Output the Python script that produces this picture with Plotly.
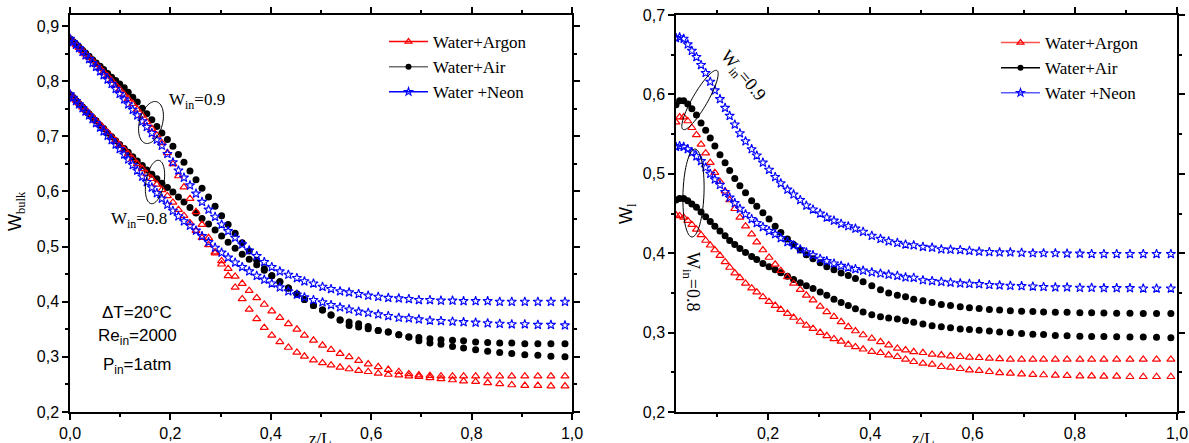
import math
import plotly.graph_objects as go

W, H = 1189, 443

# ---------------- data: left panel (W_bulk vs z/L) ----------------
x_left = [0.000, 0.006, 0.012, 0.018, 0.025, 0.031, 0.038, 0.045, 0.052, 0.060,
          0.067, 0.075, 0.083, 0.091, 0.099, 0.108, 0.116, 0.125, 0.134, 0.144,
          0.153, 0.163, 0.173, 0.183, 0.194, 0.205, 0.216, 0.227, 0.239, 0.251,
          0.263, 0.276, 0.289, 0.302, 0.315, 0.329, 0.343, 0.357, 0.372, 0.387,
          0.402, 0.418, 0.435, 0.452, 0.467, 0.485, 0.503, 0.520, 0.538, 0.556,
          0.575, 0.594, 0.614, 0.634, 0.655, 0.675, 0.695, 0.717, 0.739, 0.762,
          0.784, 0.808, 0.832, 0.856, 0.880, 0.906, 0.932, 0.958, 0.986]

bulk_air_09 = [0.877, 0.872, 0.867, 0.862, 0.856, 0.851, 0.845, 0.839, 0.833, 0.827,
               0.821, 0.814, 0.807, 0.801, 0.795, 0.788, 0.780, 0.771, 0.762, 0.751,
               0.741, 0.730, 0.718, 0.706, 0.694, 0.682, 0.667, 0.653, 0.637, 0.621,
               0.606, 0.590, 0.573, 0.556, 0.540, 0.524, 0.507, 0.492, 0.475, 0.460,
               0.447, 0.436, 0.425, 0.414, 0.404, 0.393, 0.385, 0.376, 0.367, 0.363,
               0.360, 0.355, 0.348, 0.345, 0.340, 0.336, 0.335, 0.333, 0.331, 0.330,
               0.329, 0.327, 0.326, 0.325, 0.325, 0.324, 0.324, 0.324, 0.324]
bulk_air_08 = [0.776, 0.771, 0.765, 0.759, 0.753, 0.747, 0.741, 0.734, 0.728, 0.720,
               0.714, 0.706, 0.699, 0.692, 0.685, 0.678, 0.671, 0.663, 0.655, 0.647,
               0.639, 0.631, 0.623, 0.615, 0.607, 0.599, 0.590, 0.581, 0.571, 0.561,
               0.551, 0.541, 0.530, 0.519, 0.508, 0.497, 0.486, 0.477, 0.467, 0.457,
               0.447, 0.436, 0.425, 0.414, 0.404, 0.393, 0.385, 0.376, 0.367, 0.357,
               0.354, 0.351, 0.348, 0.345, 0.340, 0.336, 0.329, 0.325, 0.323, 0.319,
               0.316, 0.313, 0.310, 0.308, 0.306, 0.304, 0.303, 0.301, 0.300]
bulk_neon_09 = [0.877, 0.871, 0.866, 0.860, 0.853, 0.847, 0.840, 0.833, 0.826, 0.818,
                0.811, 0.803, 0.795, 0.786, 0.777, 0.767, 0.758, 0.748, 0.738, 0.727,
                0.717, 0.706, 0.694, 0.683, 0.668, 0.653, 0.638, 0.625, 0.611, 0.596,
                0.581, 0.567, 0.554, 0.540, 0.528, 0.516, 0.504, 0.493, 0.483, 0.472,
                0.463, 0.455, 0.449, 0.443, 0.437, 0.433, 0.427, 0.423, 0.419, 0.417,
                0.414, 0.411, 0.409, 0.407, 0.406, 0.405, 0.403, 0.403, 0.402, 0.402,
                0.401, 0.401, 0.401, 0.400, 0.400, 0.400, 0.400, 0.400, 0.400]
bulk_neon_08 = [0.776, 0.770, 0.764, 0.758, 0.751, 0.745, 0.738, 0.731, 0.724, 0.716,
                0.709, 0.701, 0.693, 0.685, 0.677, 0.667, 0.658, 0.648, 0.638, 0.627,
                0.617, 0.607, 0.597, 0.587, 0.576, 0.565, 0.555, 0.546, 0.538, 0.529,
                0.519, 0.508, 0.498, 0.489, 0.480, 0.471, 0.463, 0.455, 0.447, 0.440,
                0.433, 0.426, 0.419, 0.413, 0.408, 0.403, 0.399, 0.394, 0.390, 0.386,
                0.382, 0.380, 0.377, 0.374, 0.371, 0.370, 0.368, 0.366, 0.365, 0.364,
                0.363, 0.362, 0.361, 0.360, 0.359, 0.359, 0.358, 0.358, 0.357]
bulk_argon_09 = [0.877, 0.872, 0.866, 0.861, 0.855, 0.849, 0.843, 0.837, 0.830, 0.823,
                 0.816, 0.809, 0.801, 0.793, 0.785, 0.776, 0.768, 0.759, 0.749, 0.738,
                 0.726, 0.714, 0.702, 0.688, 0.670, 0.650, 0.628, 0.608, 0.587, 0.563,
                 0.540, 0.516, 0.490, 0.468, 0.447, 0.426, 0.405, 0.386, 0.369, 0.353,
                 0.339, 0.327, 0.317, 0.308, 0.301, 0.294, 0.289, 0.285, 0.281, 0.278,
                 0.275, 0.273, 0.270, 0.268, 0.267, 0.265, 0.264, 0.262, 0.260, 0.258,
                 0.256, 0.255, 0.253, 0.251, 0.249, 0.248, 0.248, 0.247, 0.247]
bulk_argon_08 = [0.776, 0.771, 0.765, 0.760, 0.753, 0.748, 0.741, 0.735, 0.728, 0.721,
                 0.714, 0.707, 0.699, 0.692, 0.684, 0.676, 0.668, 0.659, 0.650, 0.641,
                 0.632, 0.623, 0.613, 0.603, 0.592, 0.580, 0.567, 0.556, 0.543, 0.529,
                 0.516, 0.503, 0.488, 0.474, 0.460, 0.446, 0.433, 0.420, 0.407, 0.395,
                 0.383, 0.371, 0.360, 0.350, 0.339, 0.330, 0.321, 0.313, 0.306, 0.300,
                 0.293, 0.287, 0.282, 0.277, 0.273, 0.269, 0.267, 0.266, 0.265, 0.265,
                 0.265, 0.265, 0.265, 0.265, 0.265, 0.265, 0.265, 0.265, 0.265]

# ---------------- data: right panel (W_l vs z/L) ----------------
x_right = [0.020, 0.027, 0.035, 0.043, 0.051, 0.060, 0.069, 0.078, 0.087, 0.096,
           0.106, 0.116, 0.125, 0.135, 0.145, 0.156, 0.168, 0.178, 0.190, 0.202,
           0.214, 0.225, 0.238, 0.250, 0.263, 0.275, 0.288, 0.302, 0.315, 0.329,
           0.343, 0.357, 0.371, 0.386, 0.403, 0.420, 0.436, 0.453, 0.469, 0.485,
           0.503, 0.521, 0.539, 0.557, 0.576, 0.594, 0.613, 0.633, 0.653, 0.674,
           0.696, 0.718, 0.739, 0.762, 0.785, 0.810, 0.833, 0.857, 0.882, 0.908,
           0.934, 0.960, 0.988]

liq_neon_09 = [0.671, 0.672, 0.670, 0.663, 0.655, 0.647, 0.637, 0.627, 0.616, 0.605,
               0.594, 0.583, 0.573, 0.562, 0.551, 0.541, 0.531, 0.523, 0.514, 0.505,
               0.496, 0.488, 0.480, 0.474, 0.467, 0.460, 0.455, 0.450, 0.445, 0.441,
               0.437, 0.434, 0.431, 0.427, 0.422, 0.418, 0.415, 0.413, 0.411, 0.410,
               0.408, 0.407, 0.405, 0.4045, 0.404, 0.403, 0.402, 0.4015, 0.401, 0.401,
               0.4005, 0.400, 0.400, 0.400, 0.3995, 0.3995, 0.399, 0.399, 0.399, 0.399,
               0.399, 0.399, 0.399]
liq_neon_08 = [0.534, 0.535, 0.534, 0.531, 0.527, 0.522, 0.516, 0.508, 0.500, 0.493,
               0.486, 0.477, 0.470, 0.463, 0.456, 0.449, 0.443, 0.438, 0.433, 0.428,
               0.424, 0.419, 0.414, 0.410, 0.405, 0.401, 0.3975, 0.393, 0.390, 0.387,
               0.384, 0.382, 0.380, 0.378, 0.376, 0.3745, 0.373, 0.3715, 0.3695, 0.369,
               0.366, 0.365, 0.364, 0.363, 0.362, 0.3615, 0.361, 0.360, 0.3595, 0.359,
               0.3585, 0.358, 0.3575, 0.357, 0.357, 0.3565, 0.3565, 0.356, 0.356, 0.356,
               0.3555, 0.3555, 0.3555]
liq_air_09 = [0.587, 0.592, 0.592, 0.588, 0.582, 0.574, 0.564, 0.555, 0.545, 0.535,
              0.524, 0.514, 0.504, 0.494, 0.485, 0.476, 0.466, 0.459, 0.451, 0.443,
              0.434, 0.426, 0.418, 0.411, 0.404, 0.398, 0.393, 0.388, 0.383, 0.379,
              0.375, 0.372, 0.368, 0.364, 0.359, 0.354, 0.350, 0.347, 0.345, 0.342,
              0.340, 0.338, 0.3355, 0.334, 0.3325, 0.3313, 0.3305, 0.3292, 0.3285, 0.3275,
              0.327, 0.3265, 0.326, 0.3257, 0.3255, 0.325, 0.325, 0.3247, 0.3245, 0.3243,
              0.324, 0.324, 0.324]
liq_air_08 = [0.467, 0.469, 0.469, 0.466, 0.462, 0.458, 0.452, 0.446, 0.440, 0.434,
              0.428, 0.422, 0.416, 0.411, 0.406, 0.401, 0.396, 0.392, 0.387, 0.383,
              0.379, 0.3755, 0.371, 0.367, 0.3627, 0.359, 0.3555, 0.351, 0.347, 0.342,
              0.338, 0.334, 0.330, 0.326, 0.3225, 0.3199, 0.3185, 0.317, 0.315, 0.313,
              0.3107, 0.3086, 0.3074, 0.306, 0.3044, 0.304, 0.303, 0.302, 0.3006, 0.2998,
              0.299, 0.298, 0.2977, 0.2965, 0.296, 0.2955, 0.2952, 0.295, 0.2948, 0.2945,
              0.2944, 0.294, 0.2935]
liq_argon_09 = [0.565, 0.5715, 0.5715, 0.5665, 0.558, 0.549, 0.537, 0.526, 0.514, 0.5015,
                0.490, 0.478, 0.467, 0.456, 0.445, 0.434, 0.424, 0.414, 0.404, 0.3946,
                0.386, 0.378, 0.370, 0.362, 0.354, 0.347, 0.341, 0.333, 0.326, 0.320,
                0.3136, 0.3073, 0.302, 0.297, 0.2927, 0.2884, 0.2843, 0.2801, 0.278, 0.2758,
                0.2746, 0.2726, 0.2717, 0.2704, 0.2696, 0.2688, 0.2683, 0.2675, 0.267, 0.2663,
                0.2663, 0.2663, 0.2663, 0.2663, 0.2663, 0.2663, 0.2663, 0.2663, 0.2663, 0.2663,
                0.2663, 0.2663, 0.2663]
liq_argon_08 = [0.448, 0.447, 0.445, 0.441, 0.436, 0.430, 0.423, 0.416, 0.410, 0.404,
                0.397, 0.389, 0.382, 0.375, 0.369, 0.362, 0.356, 0.351, 0.345, 0.339,
                0.334, 0.329, 0.324, 0.319, 0.314, 0.309, 0.305, 0.300, 0.296, 0.292,
                0.289, 0.285, 0.282, 0.279, 0.276, 0.2746, 0.2717, 0.2696, 0.2663, 0.2633,
                0.2612, 0.260, 0.257, 0.2562, 0.2545, 0.2528, 0.252, 0.2507, 0.2494, 0.2487,
                0.2478, 0.247, 0.2466, 0.2462, 0.2457, 0.2453, 0.2453, 0.2449, 0.2449, 0.2444,
                0.2444, 0.2444, 0.2444]

# ---------------- tick labels ----------------
left_y_vals = [0.2, 0.3, 0.4, 0.5, 0.6, 0.7, 0.8, 0.9]
left_y_text = ["0,2", "0,3", "0,4", "0,5", "0,6", "0,7", "0,8", "0,9"]
left_x_vals = [0.0, 0.2, 0.4, 0.6, 0.8, 1.0]
left_x_text = ["0,0", "0,2", "0,4", "0,6", "0,8", "1,0"]
right_y_vals = [0.2, 0.3, 0.4, 0.5, 0.6, 0.7]
right_y_text = ["0,2", "0,3", "0,4", "0,5", "0,6", "0,7"]
right_x_vals = [0.2, 0.4, 0.6, 0.8, 1.0]
right_x_text = ["0,2", "0,4", "0,6", "0,8", "1,0"]

series_names = ["Water+Argon", "Water+Air", "Water +Neon"]

# ---------------- styles ----------------
RED, BLUE, BLACK = "#ff0000", "#0000ff", "#000000"
argon_m = dict(symbol="triangle-up-open", size=7, color=RED, line=dict(width=1.2, color=RED))
air_m = dict(symbol="circle", size=7, color=BLACK)
neon_m = dict(symbol="star-open", size=7, color=BLUE, line=dict(width=1.1, color=BLUE))

SERIF = "Liberation Serif"
SANS = "Liberation Sans"

fig = go.Figure()


def add_pts(x, y, marker, xa, ya):
    fig.add_trace(go.Scatter(x=x, y=y, mode="markers", marker=marker,
                             xaxis=xa, yaxis=ya, showlegend=False, hoverinfo="skip"))


# left panel
add_pts(x_left, bulk_air_09, air_m, "x", "y")
add_pts(x_left, bulk_air_08, air_m, "x", "y")
add_pts(x_left, bulk_argon_09, argon_m, "x", "y")
add_pts(x_left, bulk_argon_08, argon_m, "x", "y")
add_pts(x_left, bulk_neon_09, neon_m, "x", "y")
add_pts(x_left, bulk_neon_08, neon_m, "x", "y")
# right panel
add_pts(x_right, liq_air_09, air_m, "x2", "y2")
add_pts(x_right, liq_air_08, air_m, "x2", "y2")
add_pts(x_right, liq_argon_09, argon_m, "x2", "y2")
add_pts(x_right, liq_argon_08, argon_m, "x2", "y2")
add_pts(x_right, liq_neon_09, neon_m, "x2", "y2")
add_pts(x_right, liq_neon_08, neon_m, "x2", "y2")

# legend entries (line - marker - line)
legend_styles_left = [(RED, argon_m), ("#6e6e6e", air_m), (BLUE, neon_m)]
legend_styles_right = [("#ff5050", argon_m), (BLACK, air_m), ("#5a5aff", neon_m)]
for name, (lc, m) in zip(series_names, legend_styles_left):
    mm = dict(m); mm["size"] = 6
    fig.add_trace(go.Scatter(x=[None], y=[None], mode="lines+markers", name=name,
                             line=dict(color=lc, width=1.5), marker=mm,
                             xaxis="x", yaxis="y", legend="legend"))
for name, (lc, m) in zip(series_names, legend_styles_right):
    mm = dict(m); mm["size"] = 6
    fig.add_trace(go.Scatter(x=[None], y=[None], mode="lines+markers", name=name,
                             line=dict(color=lc, width=1.5), marker=mm,
                             xaxis="x2", yaxis="y2", legend="legend2"))


def axis(domain, rng, vals, text, minor0, minordt, anchor):
    return dict(domain=domain, range=rng, tickmode="array", tickvals=vals, ticktext=text,
                showline=True, linecolor="black", linewidth=1.5, mirror="allticks",
                ticks="outside", ticklen=6, tickwidth=1.5, tickcolor="black",
                showgrid=False, zeroline=False, anchor=anchor, automargin=False,
                tickfont=dict(family=SANS, size=16, color="black"),
                minor=dict(ticks="outside", ticklen=3, tickwidth=1.5, tickcolor="black",
                           tickmode="linear", tick0=minor0, dtick=minordt, showgrid=False))


ydom = [1 - 412 / H, 1 - 15 / H]
fig.update_layout(
    width=W, height=H, margin=dict(l=0, r=0, t=0, b=0, autoexpand=False),
    paper_bgcolor="white", plot_bgcolor="white",
    xaxis=axis([70 / W, 572 / W], [0, 1], left_x_vals, left_x_text, 0, 0.1, "y"),
    yaxis=axis(ydom, [0.2, 0.92], left_y_vals, left_y_text, 0.2, 0.05, "x"),
    xaxis2=axis([676 / W, 1177 / W], [0.02, 1.0], right_x_vals, right_x_text, 0, 0.1, "y2"),
    yaxis2=axis(ydom, [0.2, 0.7], right_y_vals, right_y_text, 0.2, 0.05, "x2"),
    legend=dict(x=384 / W, y=1 - 24 / H, xanchor="left", yanchor="top",
                bgcolor="rgba(0,0,0,0)", font=dict(family=SERIF, size=17, color="black"),
                itemwidth=39, tracegroupgap=0),
    legend2=dict(x=996 / W, y=1 - 25 / H, xanchor="left", yanchor="top",
                 bgcolor="rgba(0,0,0,0)", font=dict(family=SERIF, size=17, color="black"),
                 itemwidth=39, tracegroupgap=0),
)


def px(xp, yp):
    return xp / W, 1 - yp / H


def note(text, xp, yp, size=17, family=SERIF, angle=0, xanchor="center", yanchor="middle"):
    ax, ay = px(xp, yp)
    fig.add_annotation(x=ax, y=ay, xref="paper", yref="paper", text=text, showarrow=False,
                       textangle=angle, xanchor=xanchor, yanchor=yanchor,
                       font=dict(family=family, size=size, color="black"))


# axis titles
note('W<sub><span style="font-family:Liberation Serif">bulk</span></sub>', 16, 211, size=18, family=SANS, angle=-90)
note('W<sub><span style="font-family:Liberation Serif">l</span></sub>', 628, 214, size=18, family=SANS, angle=-90)
note("z/L", 320, 438, size=17)
note("z/L", 923, 438, size=17)

# left annotations
note("W<sub>in</sub>=0.9", 167, 101, size=17, xanchor="left")
note("W<sub>in</sub>=0.8", 109, 220, size=17, xanchor="left")
note("ΔT=20°C", 137, 312, size=17, family=SANS)
note("Re<sub>in</sub>=2000", 137, 337, size=17, family=SANS)
note("P<sub>in</sub>=1atm", 137, 366, size=17, family=SANS)
# right annotations
note("W<sub>in</sub>=0.9", 743, 76, size=18, angle=50)
note("W<sub>in</sub>=0.8", 692, 281, size=18, angle=90)


def ellipse_path(cx, cy, a, b, theta_deg, n=72):
    th = math.radians(theta_deg)
    ux, uy = math.cos(th), -math.sin(th)
    vx, vy = math.sin(th), math.cos(th)
    pts = []
    for k in range(n + 1):
        t = 2 * math.pi * k / n
        xp = cx + a * math.cos(t) * ux + b * math.sin(t) * vx
        yp = cy + a * math.cos(t) * uy + b * math.sin(t) * vy
        pts.append(f"{xp / W:.5f},{1 - yp / H:.5f}")
    return "M " + " L ".join(pts) + " Z"


for (cx, cy, a, b, th) in [(151, 122.5, 21.5, 11.5, 75), (155, 182, 22, 9, 80),
                           (700, 100, 34, 7.5, 60), (693.5, 193, 44, 10.5, 88)]:
    fig.add_shape(type="path", path=ellipse_path(cx, cy, a, b, th), xref="paper", yref="paper",
                  line=dict(color="black", width=1))

fig.write_html("out.html", config={"displayModeBar": False},
               post_script="document.body.style.margin='0';")
